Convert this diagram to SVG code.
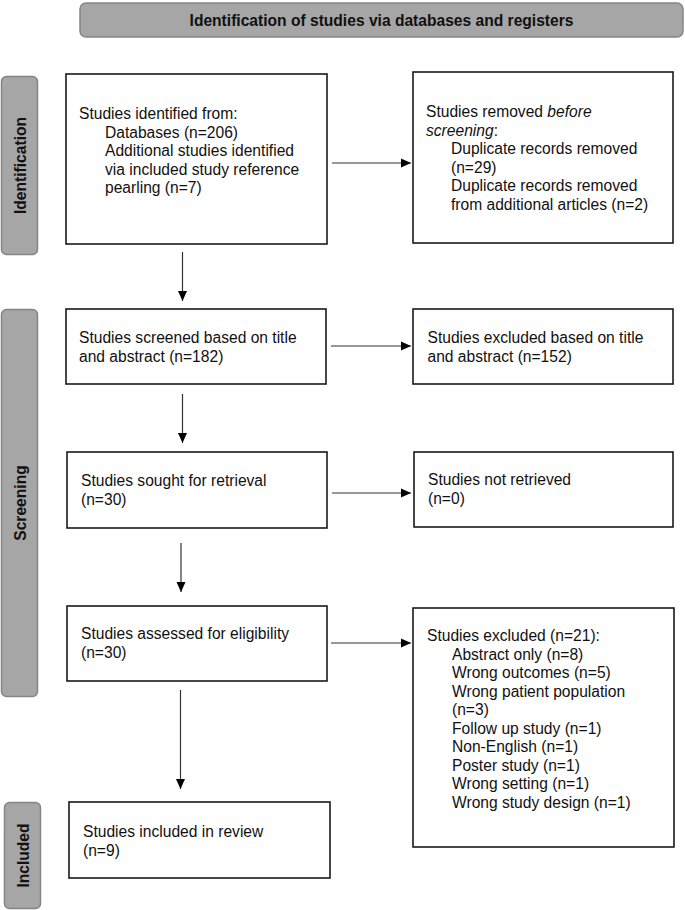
<svg xmlns="http://www.w3.org/2000/svg" width="685" height="910" viewBox="0 0 685 910">
<style>
.box{fill:#fff;stroke:#1a1a1a;stroke-width:1.6}
.phase{fill:#a6a6a6;stroke:#858585;stroke-width:1.5}
.t{font-family:"Liberation Sans",Arial,sans-serif;font-size:15.6px;fill:#111}
.pt{font-family:"Liberation Sans",Arial,sans-serif;font-size:15.6px;font-weight:bold;fill:#111;text-anchor:middle}
.conn{stroke:#333;stroke-width:1.2;fill:none;marker-end:url(#ah)}
</style>
<defs>
<marker id="ah" markerUnits="userSpaceOnUse" markerWidth="10" markerHeight="10" refX="10" refY="5" orient="auto">
<path d="M0,0.5 L10,5 L0,9.5 z" fill="#000"/>
</marker>
</defs>
<rect width="685" height="910" fill="#fff"/>

<g id="header">
<rect class="phase" x="80" y="3" width="603" height="34" rx="6"/>
<text class="pt" x="381.5" y="26">Identification of studies via databases and registers</text>
</g>

<g id="phase-identification">
<rect class="phase" x="1.5" y="76.5" width="36" height="178" rx="5"/>
<text class="pt" transform="translate(25.5,165.5) rotate(-90)" x="0" y="0">Identification</text>
</g>
<g id="phase-screening">
<rect class="phase" x="1.5" y="309.5" width="36" height="387" rx="5"/>
<text class="pt" transform="translate(25.5,503) rotate(-90)" x="0" y="0">Screening</text>
</g>
<g id="phase-included">
<rect class="phase" x="4.5" y="802.5" width="36" height="106" rx="5"/>
<text class="pt" transform="translate(28.5,855.5) rotate(-90)" x="0" y="0">Included</text>
</g>

<g id="identified">
<rect class="box" x="66" y="74" width="261" height="170"/>
<text class="t" x="79" y="119">Studies identified from:</text>
<text class="t" x="105" y="137.5">Databases (n=206)</text>
<text class="t" x="105" y="156">Additional studies identified</text>
<text class="t" x="105" y="174.5">via included study reference</text>
<text class="t" x="105" y="193">pearling (n=7)</text>
</g>

<g id="removed">
<rect class="box" x="413" y="72" width="260" height="171"/>
<text class="t" x="426" y="117">Studies removed <tspan font-style="italic">before</tspan></text>
<text class="t" x="426" y="135.5"><tspan font-style="italic">screening</tspan>:</text>
<text class="t" x="451" y="154">Duplicate records removed</text>
<text class="t" x="451" y="172.5">(n=29)</text>
<text class="t" x="451" y="191">Duplicate records removed</text>
<text class="t" x="451" y="209.5">from additional articles (n=2)</text>
</g>

<g id="screened">
<rect class="box" x="66" y="309" width="260" height="75"/>
<text class="t" x="79" y="343">Studies screened based on title</text>
<text class="t" x="79" y="361.5">and abstract (n=182)</text>
</g>

<g id="excluded-title">
<rect class="box" x="413" y="309" width="260" height="75"/>
<text class="t" x="427.5" y="343">Studies excluded based on title</text>
<text class="t" x="427.5" y="361.5">and abstract (n=152)</text>
</g>

<g id="sought">
<rect class="box" x="67" y="452" width="260" height="76"/>
<text class="t" x="81" y="486">Studies sought for retrieval</text>
<text class="t" x="81" y="504.5">(n=30)</text>
</g>

<g id="not-retrieved">
<rect class="box" x="414" y="452" width="259" height="75"/>
<text class="t" x="428" y="485">Studies not retrieved</text>
<text class="t" x="428" y="503.5">(n=0)</text>
</g>

<g id="assessed">
<rect class="box" x="67" y="606" width="260" height="75"/>
<text class="t" x="81" y="639">Studies assessed for eligibility</text>
<text class="t" x="81" y="657.5">(n=30)</text>
</g>

<g id="excluded">
<rect class="box" x="413" y="608" width="261" height="239"/>
<text class="t" x="427" y="641">Studies excluded (n=21):</text>
<text class="t" x="452" y="659.5">Abstract only (n=8)</text>
<text class="t" x="452" y="678">Wrong outcomes (n=5)</text>
<text class="t" x="452" y="696.5">Wrong patient population</text>
<text class="t" x="452" y="715">(n=3)</text>
<text class="t" x="452" y="733.5">Follow up study (n=1)</text>
<text class="t" x="452" y="752">Non-English (n=1)</text>
<text class="t" x="452" y="770.5">Poster study (n=1)</text>
<text class="t" x="452" y="789">Wrong setting (n=1)</text>
<text class="t" x="452" y="807.5">Wrong study design (n=1)</text>
</g>

<g id="included">
<rect class="box" x="69" y="802" width="261" height="76"/>
<text class="t" x="83" y="837">Studies included in review</text>
<text class="t" x="83" y="855.5">(n=9)</text>
</g>

<g id="connectors">
<line class="conn" x1="332" y1="163" x2="411" y2="163"/>
<line class="conn" x1="182.5" y1="252" x2="182.5" y2="301"/>
<line class="conn" x1="331" y1="346" x2="411" y2="346"/>
<line class="conn" x1="182.5" y1="394" x2="182.5" y2="443"/>
<line class="conn" x1="332" y1="493" x2="411" y2="493"/>
<line class="conn" x1="181" y1="543" x2="181" y2="592"/>
<line class="conn" x1="331" y1="643" x2="411" y2="643"/>
<line class="conn" x1="180.5" y1="690" x2="180.5" y2="789"/>
</g>
</svg>
